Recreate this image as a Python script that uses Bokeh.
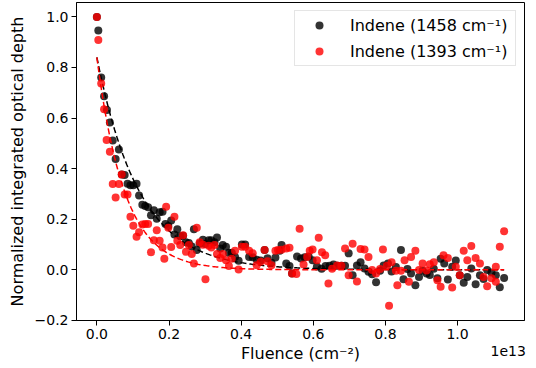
import numpy as np
from bokeh.plotting import figure
from bokeh.models import Range1d, FixedTicker, Legend, LegendItem, LinearAxis
from bokeh.embed import file_html
from bokeh.resources import INLINE

# Fluence in units of 1e13 cm^-2
x_1458 = [0.000, 0.004, 0.012, 0.020, 0.028, 0.036, 0.044, 0.052, 0.061, 0.069, 0.077, 0.085, 0.093, 0.101,
          0.110, 0.117, 0.126, 0.134, 0.142, 0.150, 0.158, 0.166, 0.174, 0.182, 0.190, 0.198, 0.206, 0.215,
          0.223, 0.231, 0.239, 0.247, 0.255, 0.263, 0.269, 0.277, 0.285, 0.294, 0.301, 0.310, 0.317, 0.326,
          0.333, 0.342, 0.349, 0.358, 0.366, 0.374, 0.383, 0.393, 0.402, 0.411, 0.422, 0.432, 0.443, 0.454,
          0.465, 0.473, 0.484, 0.495, 0.507, 0.512, 0.525, 0.534, 0.541, 0.555, 0.566, 0.576, 0.587, 0.598,
          0.610, 0.623, 0.634, 0.645, 0.656, 0.666, 0.678, 0.688, 0.698, 0.709, 0.721, 0.731, 0.742, 0.753,
          0.763, 0.774, 0.785, 0.795, 0.807, 0.817, 0.829, 0.843, 0.850, 0.861, 0.871, 0.883, 0.893, 0.903,
          0.914, 0.923, 0.934, 0.944, 0.953, 0.963, 0.973, 0.985, 0.995, 1.006, 1.017, 1.027, 1.038, 1.050,
          1.062, 1.072, 1.082, 1.094, 1.106, 1.117, 1.129]
y_1458 = [1.000, 0.946, 0.760, 0.686, 0.632, 0.582, 0.511, 0.438, 0.476, 0.377, 0.375, 0.340, 0.334, 0.334,
          0.340, 0.294, 0.257, 0.252, 0.247, 0.216, 0.235, 0.202, 0.228, 0.230, 0.181, 0.173, 0.195, 0.140,
          0.160, 0.133, 0.135, 0.109, 0.106, 0.092, 0.160, 0.078, 0.104, 0.119, 0.102, 0.117, 0.117, 0.109,
          0.128, 0.084, 0.098, 0.091, 0.067, 0.067, 0.051, 0.036, 0.100, 0.100, 0.051, 0.050, 0.040, 0.037,
          0.078, 0.046, 0.028, 0.049, 0.075, 0.098, 0.025, 0.015, -0.015, 0.053, 0.045, 0.050, 0.053, 0.038,
          0.013, 0.004, 0.015, 0.016, 0.021, 0.016, 0.016, 0.016, 0.065, -0.022, 0.017, 0.030, 0.005, -0.008,
          -0.018, -0.049, -0.004, 0.017, 0.025, -0.007, 0.011, 0.078, -0.037, 0.003, -0.015, -0.061, -0.028, -0.004,
          -0.015, -0.021, 0.004, -0.033, 0.044, 0.025, -0.038, 0.012, 0.037, -0.022, -0.051, -0.028, 0.005, -0.057,
          -0.022, -0.036, -0.001, -0.011, -0.022, -0.069, -0.032]

x_1393 = [0.000, 0.004, 0.012, 0.020, 0.027, 0.036, 0.044, 0.052, 0.061, 0.069, 0.077, 0.085, 0.093, 0.101,
          0.110, 0.117, 0.126, 0.134, 0.142, 0.150, 0.158, 0.166, 0.174, 0.182, 0.187, 0.192, 0.198, 0.206,
          0.215, 0.223, 0.231, 0.239, 0.247, 0.255, 0.263, 0.269, 0.277, 0.285, 0.294, 0.301, 0.310, 0.317,
          0.326, 0.333, 0.342, 0.349, 0.358, 0.366, 0.374, 0.383, 0.393, 0.402, 0.411, 0.422, 0.432, 0.443,
          0.454, 0.465, 0.473, 0.484, 0.495, 0.502, 0.512, 0.525, 0.534, 0.541, 0.553, 0.562, 0.573, 0.583,
          0.590, 0.598, 0.610, 0.615, 0.624, 0.633, 0.642, 0.652, 0.666, 0.678, 0.688, 0.698, 0.709, 0.721,
          0.731, 0.742, 0.753, 0.763, 0.774, 0.785, 0.793, 0.804, 0.810, 0.817, 0.829, 0.833, 0.843, 0.853,
          0.865, 0.871, 0.883, 0.893, 0.903, 0.914, 0.923, 0.934, 0.944, 0.953, 0.961, 0.973, 0.985, 0.995,
          1.006, 1.017, 1.027, 1.038, 1.050, 1.062, 1.072, 1.082, 1.094, 1.106, 1.106, 1.117, 1.129]
y_1393 = [1.000, 0.909, 0.737, 0.635, 0.513, 0.467, 0.339, 0.286, 0.339, 0.377, 0.298, 0.298, 0.210, 0.174,
          0.131, 0.148, 0.179, 0.181, 0.181, 0.069, 0.117, 0.156, 0.115, 0.088, 0.044, 0.249, 0.166, 0.090,
          0.210, 0.115, 0.098, 0.137, 0.071, 0.098, 0.062, 0.025, 0.166, 0.109, 0.099, -0.037, 0.095, 0.088,
          0.098, 0.062, 0.047, 0.062, 0.038, 0.015, 0.044, 0.075, 0.001, 0.091, 0.091, 0.075, 0.065, 0.018,
          0.032, 0.078, 0.034, 0.018, 0.075, 0.078, 0.079, 0.084, 0.087, -0.015, -0.017, 0.162, 0.021, 0.051,
          0.075, 0.080, 0.038, 0.127, 0.069, 0.058, -0.054, 0.004, 0.017, 0.016, 0.084, -0.022, 0.103, -0.046,
          0.082, 0.080, 0.051, -0.001, -0.015, 0.003, 0.080, 0.016, -0.142, 0.030, -0.004, -0.061, -0.004, 0.038,
          -0.047, 0.051, 0.075, -0.001, 0.025, -0.003, 0.022, 0.030, -0.041, -0.067, 0.058, 0.047, -0.070, 0.012,
          -0.022, 0.075, 0.038, 0.094, 0.047, 0.025, -0.028, -0.065, -0.033, -0.047, 0.012, 0.091, 0.152]

# exponential fit parameters: y = A * exp(-F / tau)
fit_1458 = {"A": 0.84, "tau": 0.118}
fit_1393 = {"A": 0.84, "tau": 0.077}
fit_x_end = 1.129

x_ticks = [0.0, 0.2, 0.4, 0.6, 0.8, 1.0]
y_ticks = [-0.2, 0.0, 0.2, 0.4, 0.6, 0.8, 1.0]
x_label = "Fluence (cm\u207b\u00b2)"
y_label = "Normalized integrated optical depth"
labels = ["Indene (1458 cm\u207b\u00b9)", "Indene (1393 cm\u207b\u00b9)"]
offset_text = "1e13"

FONT = "DejaVu Sans"
X0, X1 = -0.0565, 1.1855
Y0, Y1 = -0.2005, 1.057

p = figure(width=536, height=368, output_backend="svg", toolbar_location=None,
           x_range=Range1d(X0, X1), y_range=Range1d(Y0, Y1),
           min_border_left=76, min_border_right=12, min_border_top=2, min_border_bottom=48)
p.grid.visible = False
p.outline_line_color = "black"
p.outline_line_width = 1
p.background_fill_color = "white"
p.border_fill_color = "white"

# second (label) axis below the tick axis: carries the axis title and the offset text
off_pos = X1 - 0.045
lab_axis = LinearAxis(ticker=FixedTicker(ticks=[off_pos]),
                      major_label_overrides={off_pos: offset_text})
p.add_layout(lab_axis, "below")

for ax in (p.xaxis[0], p.yaxis[0], lab_axis):
    ax.axis_line_color = "black"
    ax.major_tick_line_color = "black"
    ax.major_tick_in = 0
    ax.major_tick_out = 5
    ax.minor_tick_line_color = None
    ax.major_label_standoff = 3
    ax.major_label_text_font = FONT
    ax.major_label_text_font_size = "14px"
    ax.major_label_text_color = "black"
    ax.axis_label_text_font = FONT
    ax.axis_label_text_font_size = "16px"
    ax.axis_label_text_font_style = "normal"
    ax.axis_label_text_color = "black"

lab_axis.axis_line_color = None
lab_axis.major_tick_line_color = None
lab_axis.major_tick_out = 0
lab_axis.major_label_standoff = 4
lab_axis.axis_label = x_label
lab_axis.axis_label_standoff = -15

p.xaxis[0].ticker = FixedTicker(ticks=x_ticks)
p.xaxis[0].major_label_overrides = {t: f"{t:.1f}" for t in x_ticks}
p.yaxis.ticker = FixedTicker(ticks=y_ticks)
p.yaxis.major_label_overrides = {t: f"{t:.1f}".replace("-", "\u2212") for t in y_ticks}
p.yaxis.axis_label = y_label
p.yaxis.axis_label_standoff = 5

fx = np.linspace(0.0, fit_x_end, 300)

r1 = p.scatter(x_1458, y_1458, size=8, fill_color="black", fill_alpha=0.8, line_color=None)
p.line(fx, fit_1458["A"] * np.exp(-fx / fit_1458["tau"]), line_color="black", line_width=1.5, line_dash="6 3")
r2 = p.scatter(x_1393, y_1393, size=8, fill_color="red", fill_alpha=0.8, line_color=None)
p.line(fx, fit_1393["A"] * np.exp(-fx / fit_1393["tau"]), line_color="red", line_width=1.5, line_dash="6 3")

legend = Legend(items=[LegendItem(label=labels[0], renderers=[r1]),
                       LegendItem(label=labels[1], renderers=[r2])],
                location="top_right")
legend.margin = 8
legend.padding = 4
legend.spacing = 6
legend.glyph_width = 40
legend.glyph_height = 20
legend.label_height = 20
legend.label_width = 161
legend.label_standoff = 11
legend.label_text_font = FONT
legend.label_text_font_size = "16px"
legend.label_text_color = "black"
legend.border_line_color = "#cccccc"
legend.border_line_width = 1
legend.background_fill_alpha = 0.8
p.add_layout(legend)

open("out.html", "w").write(file_html(p, INLINE))
